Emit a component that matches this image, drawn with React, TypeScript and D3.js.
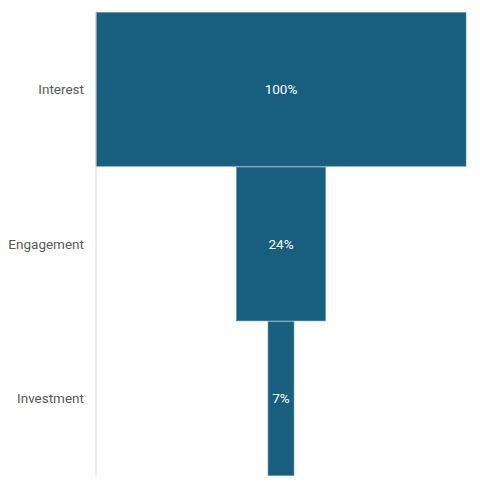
import React from 'react';
import * as d3 from 'd3';

const stages = ['Interest', 'Engagement', 'Investment'];
const values = [100, 24, 7];
const valueLabels = ['100%', '24%', '7%'];

const width = 480;
const height = 490;
const margin = { top: 12.5, right: 14, bottom: 14.5, left: 96 };

export default function App() {
  const plotW = width - margin.left - margin.right;
  const centre = margin.left + plotW / 2;

  // half-width scale so bars grow out from the centre
  const x = d3.scaleLinear().domain([0, 100]).range([0, plotW / 2]);
  const y = d3
    .scaleBand<string>()
    .domain(stages)
    .range([margin.top, height - margin.bottom])
    .paddingInner(0.006);

  return (
    <svg
      width={width}
      height={height}
      style={{ position: 'absolute', left: 0, top: 0, background: '#fff' }}
      fontFamily="Roboto, 'Noto Sans', sans-serif"
    >
      {stages.map((s, i) => {
        const half = x(values[i]);
        const y0 = y(s)!;
        return (
          <g key={s}>
            <rect
              x={centre - half}
              y={y0}
              width={half * 2}
              height={y.bandwidth()}
              fill="#175e7f"
              stroke="#4f8aa6"
              strokeWidth={0.6}
            />
            <text
              x={centre}
              y={y0 + y.bandwidth() / 2}
              dy="0.35em"
              textAnchor="middle"
              fill="#fff"
              fontSize={13.5}
            >
              {valueLabels[i]}
            </text>
            <text
              x={margin.left - 12}
              y={y0 + y.bandwidth() / 2}
              dy="0.35em"
              textAnchor="end"
              fill="#595959"
              fontSize={13.5}
            >
              {s}
            </text>
          </g>
        );
      })}
      {/* category axis line */}
      <line
        x1={margin.left}
        x2={margin.left}
        y1={margin.top}
        y2={height - margin.bottom}
        stroke="#d9d9d9"
        strokeWidth={1}
      />
    </svg>
  );
}
